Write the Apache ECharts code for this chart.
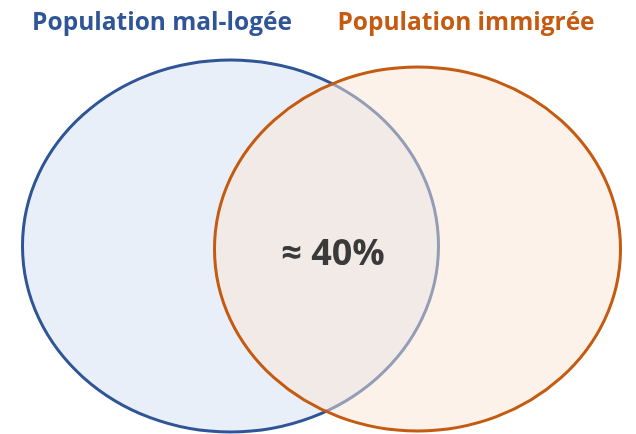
<!DOCTYPE html>
<html>
<head>
<meta charset="utf-8">
<script src="https://cdn.jsdelivr.net/npm/echarts@6/dist/echarts.min.js"></script>
<style>
  html, body { margin: 0; padding: 0; background: #ffffff; }
  #chart { width: 636px; height: 434px; }
</style>
</head>
<body>
<div id="chart"></div>
<script>
// les deux ensembles du diagramme de Venn (unités = repère du dessin)
const sets = ['Population mal-logée', 'Population immigrée'];
const centerX = [230.5, 417.5];
const centerY = [246, 249];
const radiusX = [208, 203];
const radiusY = [186, 182];
const overlapLabel = '≈ 40%';
const overlapAt = [333, 255];

// styles
const strokeColors = ['#2F5597', '#C55A11'];
const fillColors = ['#E9EFF9', 'rgba(249,229,213,0.5)'];
const titleX = [162, 466];

const chart = echarts.init(document.getElementById('chart'));

const ellipseData = sets.map((name, i) => ({
  name: name,
  value: [centerX[i], centerY[i], radiusX[i], radiusY[i]]
}));

chart.setOption({
  animation: false,
  grid: { left: 0, right: 0, top: 0, bottom: 0 },
  xAxis: { type: 'value', min: 0, max: 636, show: false },
  yAxis: { type: 'value', min: 0, max: 434, inverse: true, show: false },
  graphic: sets.map((name, i) => ({
    type: 'text',
    x: titleX[i],
    y: 23,
    style: {
      text: name,
      fill: strokeColors[i],
      font: 'bold 24.5px "Open Sans", "Noto Sans", sans-serif',
      textAlign: 'center',
      textVerticalAlign: 'middle'
    }
  })),
  series: [
    {
      type: 'custom',
      coordinateSystem: 'cartesian2d',
      clip: false,
      data: ellipseData,
      renderItem: function (params, api) {
        const c = api.coord([api.value(0), api.value(1)]);
        const s = api.size([api.value(2), api.value(3)]);
        return {
          type: 'ellipse',
          shape: { cx: c[0], cy: c[1], rx: s[0], ry: s[1] },
          style: {
            fill: fillColors[params.dataIndex],
            stroke: strokeColors[params.dataIndex],
            lineWidth: 3
          }
        };
      }
    },
    {
      type: 'scatter',
      symbolSize: 0,
      itemStyle: { opacity: 1 },
      data: [overlapAt],
      label: {
        show: true,
        position: 'inside',
        formatter: overlapLabel,
        color: '#3A3A3A',
        fontFamily: '"Open Sans", "Noto Sans", sans-serif',
        fontWeight: 'bold',
        fontSize: 36
      }
    }
  ]
});
</script>
</body>
</html>
